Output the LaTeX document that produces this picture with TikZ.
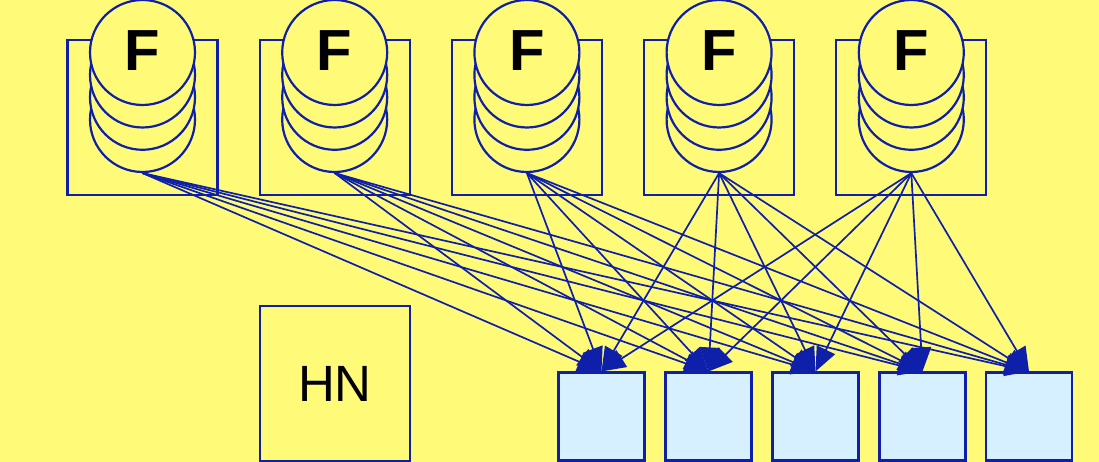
\documentclass[tikz,border=0pt]{standalone}
\usepackage{fontspec}
\setmainfont{Liberation Sans}
\usetikzlibrary{arrows.meta}
\definecolor{bgyellow}{RGB}{255,250,120}
\definecolor{lineblue}{RGB}{14,32,170}
\definecolor{boxblue}{RGB}{214,240,255}
\tikzset{
  frame/.style={draw=lineblue, line width=2.2pt, fill=bgyellow, minimum width=150pt, minimum height=155pt, inner sep=0pt},
  disc/.style={circle, draw=lineblue, line width=2.2pt, fill=bgyellow, minimum size=105pt, inner sep=0pt},
  flabel/.style={font=\fontsize{58}{58}\selectfont\bfseries, text=black, inner sep=0pt},
  hnbox/.style={draw=lineblue, line width=2.2pt, minimum width=150pt, minimum height=155pt, inner sep=0pt,
    font=\fontsize{51}{51}\selectfont, text=black},
  target/.style={draw=lineblue, line width=2.2pt, fill=boxblue, minimum width=86pt, minimum height=88pt, inner sep=0pt},
  conn/.style={draw=lineblue, line width=1.7pt, -{Triangle[length=24pt, width=20pt]}}
}
\begin{document}
\begin{tikzpicture}[x=1pt, y=-1pt]
  \fill[bgyellow] (0,0) rectangle (1099,462);
  \useasboundingbox (0,0) rectangle (1099,462);
  % five F stacks: frame, four stacked discs, letter
  \foreach \i/\cx in {1/142.5, 2/334.7, 3/526.9, 4/719.1, 5/911.3} {
    \node[frame] (box\i) at (\cx,117.5) {};
    \node[disc] (f\i-4) at (\cx,119.5) {};
    \node[disc] (f\i-3) at (\cx,97.3) {};
    \node[disc] (f\i-2) at (\cx,75) {};
    \node[disc] (f\i-1) at (\cx,52.5) {};
    \node[flabel] (lbl\i) at (\cx,51) {F};
  }
  % HN box
  \node[hnbox] (hn) at (335,383.5) {HN};
  % row of target boxes
  \foreach \j/\bx in {1/601.5, 2/708.5, 3/815.5, 4/922.5, 5/1029} {
    \node[target] (b\j) at (\bx,416.5) {};
  }
  % every stack feeds every target
  \foreach \i in {1,...,5} {
    \foreach \j in {1,...,5} {
      \draw[conn] (f\i-4.south) -- (b\j.north);
    }
  }
\end{tikzpicture}
\end{document}
